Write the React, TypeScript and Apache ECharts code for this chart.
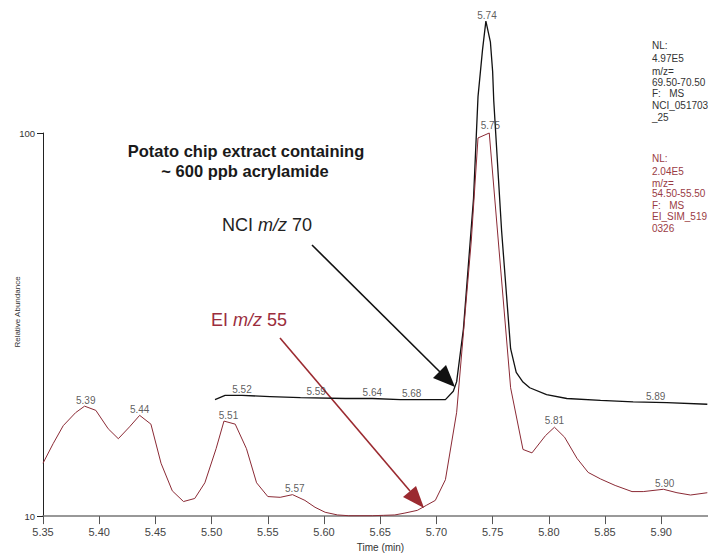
import React, { useEffect, useRef } from "react";
import * as echarts from "echarts";

// ---- data ----
const nciTimes = [5.503, 5.512, 5.527, 5.552, 5.579, 5.619, 5.643, 5.668, 5.694, 5.708, 5.715, 5.718, 5.724, 5.733, 5.737, 5.741, 5.744, 5.748, 5.750, 5.751, 5.758, 5.766, 5.771, 5.777, 5.783, 5.798, 5.816, 5.846, 5.875, 5.905, 5.941];
const nciValues = [30.4, 31.5, 31.5, 31.2, 30.9, 30.7, 30.7, 30.4, 30.4, 30.4, 32.6, 35.1, 48.8, 82.9, 109.5, 121.7, 129.2, 123.8, 116.1, 108.4, 74.4, 43.7, 37.5, 35.0, 33.5, 31.7, 30.7, 30.2, 29.8, 29.6, 29.2];

const eiTimes = [5.350, 5.359, 5.368, 5.379, 5.387, 5.397, 5.408, 5.417, 5.427, 5.436, 5.446, 5.455, 5.465, 5.475, 5.485, 5.494, 5.504, 5.511, 5.521, 5.531, 5.540, 5.550, 5.561, 5.572, 5.583, 5.592, 5.601, 5.612, 5.622, 5.632, 5.643, 5.653, 5.663, 5.672, 5.683, 5.691, 5.699, 5.708, 5.718, 5.731, 5.737, 5.747, 5.766, 5.777, 5.785, 5.797, 5.805, 5.814, 5.825, 5.835, 5.846, 5.859, 5.874, 5.884, 5.902, 5.914, 5.926, 5.941];
const eiValues = [13.8, 18.9, 23.6, 27.0, 28.7, 27.6, 22.8, 20.2, 23.3, 26.3, 24.0, 13.8, 6.6, 3.8, 4.6, 8.7, 17.6, 24.8, 24.0, 17.6, 8.7, 5.1, 4.9, 5.6, 4.1, 2.3, 1.0, 0.3, 0.1, 0.1, 0.1, 0.2, 0.3, 0.8, 1.5, 2.8, 4.1, 9.5, 27.1, 71.8, 98.7, 100, 33.5, 17.4, 16.5, 21.0, 23.2, 20.6, 15.1, 11.4, 9.7, 8.0, 6.4, 6.4, 7.0, 6.1, 5.5, 6.1];

const nciPeakTexts = ["5.52", "5.59", "5.64", "5.68", "5.74", "5.89"];
const nciPeakTimes = [5.527, 5.593, 5.643, 5.678, 5.745, 5.895];
const nciPeakValues = [31.5, 30.9, 30.7, 30.4, 129.2, 29.7];

const eiPeakTexts = ["5.39", "5.44", "5.51", "5.57", "5.75", "5.81", "5.90"];
const eiPeakTimes = [5.388, 5.436, 5.515, 5.574, 5.748, 5.805, 5.903];
const eiPeakValues = [28.7, 26.3, 24.8, 5.6, 100.3, 23.3, 6.9];

const xTickValues = [5.35, 5.40, 5.45, 5.50, 5.55, 5.60, 5.65, 5.70, 5.75, 5.80, 5.85, 5.90];
const yTickValues = [0, 100];
const yTickTexts = ["10", "100"];

const nciInfoLines = ["NL:", "4.97E5", "m/z=", "69.50-70.50", "F:   MS", "NCI_051703", "_25"];
const eiInfoLines = ["NL:", "2.04E5", "m/z=", "54.50-55.50", "F:   MS", "EI_SIM_519", "0326"];

const FONT = "'Liberation Sans', Arial, Helvetica, sans-serif";
const BLACK = "#111111";
const RED = "#8b2a35";

export default function App() {
  const ref = useRef<HTMLDivElement>(null);

  useEffect(() => {
    const chart = echarts.init(ref.current!, null, { renderer: "svg" });

    const labelData = [
      ...nciPeakTimes.map((t, i) => ({ value: [t, nciPeakValues[i]], name: nciPeakTexts[i] })),
      ...eiPeakTimes.map((t, i) => ({ value: [t, eiPeakValues[i]], name: eiPeakTexts[i] })),
    ];

    const nciInfoY = [45, 58, 71.5, 82, 93.5, 105, 117];
    const eiInfoY = [158, 171.5, 183, 193.5, 205, 216.5, 228];

    const infoText = (lines: string[], ys: number[], color: string) =>
      lines.map((s, i) => ({
        type: "text",
        x: 652,
        y: ys[i],
        style: {
          text: s,
          fill: color,
          fontSize: 10,
          fontFamily: FONT,
          align: "left",
          verticalAlign: "middle",
        },
      }));

    const option: any = {
      animation: false,
      backgroundColor: "#ffffff",
      grid: { left: 43, right: 0, top: 133, bottom: 33, containLabel: false },
      xAxis: {
        type: "value",
        min: 5.35,
        max: 5.9416,
        interval: 0.05,
        name: "Time (min)",
        nameLocation: "middle",
        nameGap: 21,
        nameTextStyle: { fontSize: 10, color: "#333", fontFamily: FONT, padding: [0, 0, 0, 10] },
        axisLine: { show: true, lineStyle: { color: "#777", width: 1.5 } },
        axisTick: { show: true, length: 8, customValues: xTickValues, lineStyle: { color: "#555", width: 1 } },
        axisLabel: {
          customValues: xTickValues,
          formatter: (v: number) => v.toFixed(2),
          fontSize: 11,
          color: "#444",
          fontFamily: FONT,
          margin: 10,
        },
        splitLine: { show: false },
      },
      yAxis: {
        type: "value",
        min: 0,
        max: 100,
        interval: 100,
        axisLine: { show: true, lineStyle: { color: "#222", width: 1 } },
        axisTick: { show: true, length: 6, customValues: yTickValues, lineStyle: { color: "#222" } },
        axisLabel: {
          customValues: yTickValues,
          formatter: (v: number) => yTickTexts[yTickValues.indexOf(v)] ?? "",
          fontSize: 9.5,
          color: "#333",
          fontFamily: FONT,
          margin: 8,
        },
        splitLine: { show: false },
      },
      series: [
        {
          name: "NCI m/z 70",
          type: "line",
          data: nciTimes.map((t, i) => [t, nciValues[i]]),
          showSymbol: false,
          clip: false,
          lineStyle: { color: BLACK, width: 1.3 },
          z: 3,
        },
        {
          name: "EI m/z 55",
          type: "line",
          data: eiTimes.map((t, i) => [t, eiValues[i]]),
          showSymbol: false,
          clip: false,
          lineStyle: { color: RED, width: 1 },
          z: 4,
        },
        {
          name: "peak labels",
          type: "scatter",
          data: labelData,
          symbolSize: 0,
          clip: false,
          silent: true,
          z: 6,
          label: {
            show: true,
            position: "top",
            distance: 1,
            formatter: "{b}",
            fontSize: 10,
            color: "#333",
            fontFamily: FONT,
          },
        },
      ],
      graphic: [
        {
          type: "text",
          x: 17,
          y: 312,
          rotation: Math.PI / 2,
          style: {
            text: "Relative Abundance",
            fontSize: 8,
            fill: "#333",
            fontFamily: FONT,
            align: "center",
            verticalAlign: "middle",
          },
        },
        {
          type: "text",
          x: 246,
          y: 151,
          style: {
            text: "Potato chip extract containing",
            fontSize: 16.5,
            fontWeight: "bold",
            fill: "#1a1a1a",
            fontFamily: FONT,
            align: "center",
            verticalAlign: "middle",
          },
        },
        {
          type: "text",
          x: 245,
          y: 171,
          style: {
            text: "~ 600 ppb acrylamide",
            fontSize: 16.5,
            fontWeight: "bold",
            fill: "#1a1a1a",
            fontFamily: FONT,
            align: "center",
            verticalAlign: "middle",
          },
        },
        {
          type: "text",
          x: 222,
          y: 225,
          style: {
            text: "{n|NCI }{i|m/z}{n| 70}",
            fill: "#222",
            align: "left",
            verticalAlign: "middle",
            rich: {
              n: { fontSize: 18, fontFamily: FONT, fill: "#222" },
              i: { fontSize: 18, fontFamily: FONT, fontStyle: "italic", fill: "#222" },
            },
          },
        },
        {
          type: "text",
          x: 211,
          y: 320,
          style: {
            text: "{n|EI }{i|m/z}{n| 55}",
            fill: "#9b2d3d",
            align: "left",
            verticalAlign: "middle",
            rich: {
              n: { fontSize: 18, fontFamily: FONT, fill: "#9b2d3d" },
              i: { fontSize: 18, fontFamily: FONT, fontStyle: "italic", fill: "#9b2d3d" },
            },
          },
        },
        // black arrow
        {
          type: "line",
          shape: { x1: 312, y1: 245, x2: 440, y2: 372 },
          style: { stroke: "#111", lineWidth: 1.6 },
        },
        {
          type: "polygon",
          shape: { points: [[455, 387], [433, 378], [446, 365]] },
          style: { fill: "#111" },
        },
        // red arrow
        {
          type: "line",
          shape: { x1: 280, y1: 338, x2: 410, y2: 491 },
          style: { stroke: "#9b2a30", lineWidth: 1.6 },
        },
        {
          type: "polygon",
          shape: { points: [[424, 508], [403, 497], [416, 486]] },
          style: { fill: "#9b2a30" },
        },
        ...infoText(nciInfoLines, nciInfoY, "#333"),
        ...infoText(eiInfoLines, eiInfoY, "#9a3b44"),
      ],
    };

    chart.setOption(option);
    return () => chart.dispose();
  }, []);

  return (
    <div
      ref={ref}
      style={{ position: "fixed", left: 0, top: 0, width: 708, height: 557, background: "#fff" }}
    />
  );
}
